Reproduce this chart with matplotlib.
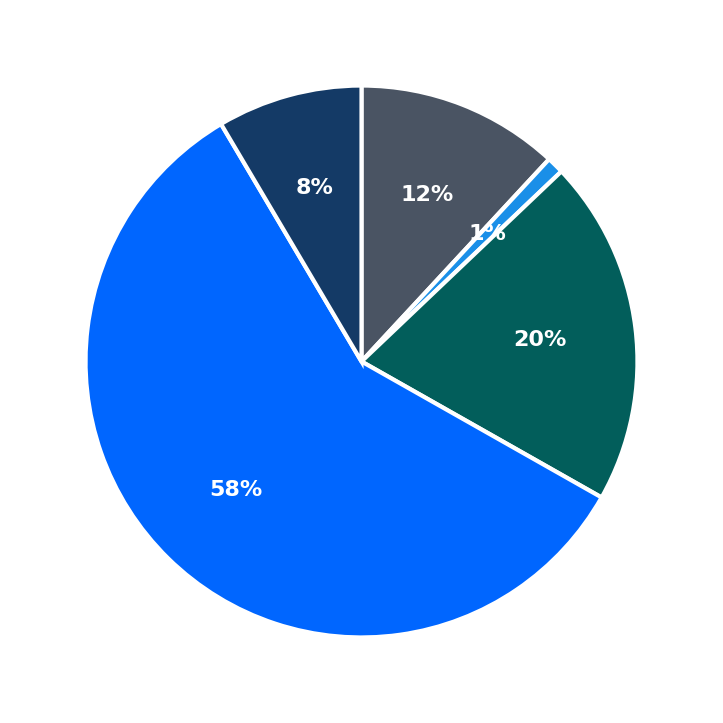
import matplotlib.pyplot as plt

labels = ["A", "B", "C", "D", "E"]
values = [11.9, 1.0, 20.3, 58.3, 8.5]
colors = ["#4a5463", "#1a8fe8", "#025e5b", "#0066ff", "#143a66"]

fig = plt.figure(figsize=(7.23, 7.23), dpi=100)
ax = fig.add_axes([0, 0, 1, 1])
ax.pie(values, colors=colors, startangle=90, counterclock=False,
       autopct='%.0f%%', pctdistance=0.65,
       wedgeprops=dict(edgecolor='white', linewidth=3),
       textprops=dict(color='white', fontsize=16, fontweight='bold'))
ax.set_xlim(-1.31, 1.31)
ax.set_ylim(-1.31, 1.31)
ax.set_aspect('equal')
ax.axis('off')
fig.savefig('out.png', dpi=100)
